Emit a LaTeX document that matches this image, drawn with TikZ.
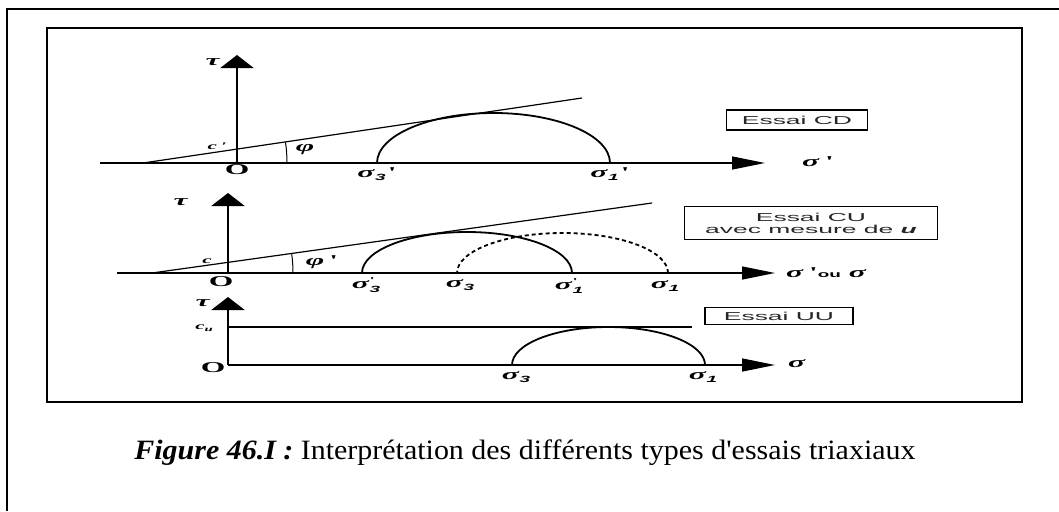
\documentclass[tikz,border=0pt]{standalone}
\usepackage{fontspec}
\setmainfont{Liberation Serif}
\setsansfont{Liberation Sans}
\usetikzlibrary{arrows.meta}
\newcommand\sx[1]{\scalebox{2.1}[1]{#1}}
\newcommand\gk[1]{\textbf{\textit{#1}}}
\newcommand\sub[1]{\raisebox{-3.5pt}{\sffamily\bfseries\itshape\fontsize{9}{9}\selectfont #1}}
\newcommand\pr{\textbf{\textquotesingle}}
\newcommand\subpr[1]{\makebox[0pt][l]{\raisebox{5pt}{\fontsize{9}{9}\selectfont\pr}}\sub{#1}}
\tikzset{
  vaxis/.style={line width=2.4pt,-{Triangle[length=13pt,width=33pt]}},
  haxis/.style={line width=1.4pt,-{Triangle[length=33pt,width=13pt]}},
  fline/.style={line width=1.2pt},
  mohr/.style={line width=1.8pt},
  lab/.style={inner sep=0pt,font=\fontsize{15}{15}\selectfont},
  small/.style={inner sep=0pt,font=\fontsize{10}{10}\selectfont\bfseries\itshape},
  ebox/.style={draw,line width=1.5pt,inner sep=0pt,font=\sffamily\fontsize{11.5}{12}\selectfont,text=black!85},
}
\newcommand\bx[1]{\scalebox{2.3}[1]{#1}}
\begin{document}
\begin{tikzpicture}[x=1pt,y=-1pt]
\useasboundingbox (0,0) rectangle (1059,511);
% frames
\draw[line width=1.8pt] (1059,9) -- (7,9) -- (7,511);
\draw[line width=2pt] (47,28) rectangle (1022,402);
% ---------------- CD
\coordinate (o1) at (237,163);
\coordinate (t1) at (237,55);
\coordinate (h1a) at (100,163);
\coordinate (h1b) at (765,163);
\coordinate (f1a) at (143,163);
\coordinate (f1b) at (582,98);
\draw[fline] (f1a) -- (f1b);
\draw[mohr] (610,163) arc[start angle=0,end angle=-180,x radius=116.5,y radius=50];
\draw[haxis] (h1a) -- (h1b);
\draw[vaxis] (o1) -- (t1);
\draw[line width=1pt] (287,163) arc[start angle=0,end angle=-8.2,radius=144];
\node[lab] (tau1) at (213,62) {\sx{\gk{τ}}};
\node[small] (c1) at (217,146) {\sx{c\,\textquotesingle}};
\node[lab] (O1) at (237,170) {\sx{\textbf{O}}};
\node[lab] (phi1) at (305,150) {\sx{\gk{φ}}};
\node[lab] (s31) at (377,174) {\sx{\gk{σ}\sub{3}\kern1pt\pr}};
\node[lab] (s11) at (610,174) {\sx{\gk{σ}\sub{1}\kern1pt\pr}};
\node[lab,anchor=west] (sx1) at (802,162) {\sx{\gk{σ}\,\pr}};
\node[ebox,minimum width=141pt,minimum height=20pt] (bcd) at (797,120) {\bx{Essai CD}};
% ---------------- CU
\coordinate (o2) at (228,273);
\coordinate (t2) at (228,193);
\coordinate (h2a) at (117,273);
\coordinate (h2b) at (775,273);
\coordinate (f2a) at (152,273);
\coordinate (f2b) at (652,203);
\draw[fline] (f2a) -- (f2b);
\draw[mohr] (572,273) arc[start angle=0,end angle=-180,x radius=105,y radius=41];
\draw[mohr,dash pattern=on 4pt off 3pt] (668,273) arc[start angle=0,end angle=-180,x radius=105.5,y radius=40];
\draw[haxis] (h2a) -- (h2b);
\draw[vaxis] (o2) -- (t2);
\draw[line width=1pt] (293,273) arc[start angle=0,end angle=-8,radius=141];
\node[lab] (tau2) at (181,202) {\sx{\gk{τ}}};
\node[small] (c2) at (207,261) {\sx{c}};
\node[lab] (O2) at (221,282) {\sx{\textbf{O}}};
\node[lab] (phi2) at (322,262) {\sx{\gk{φ}\,\pr}};
\node[lab] (s32) at (366,285) {\sx{\gk{σ}\subpr{3}}};
\node[lab] (s3b) at (460,285) {\sx{\gk{σ}\sub{3}}};
\node[lab] (s12) at (569,286) {\sx{\gk{σ}\subpr{1}}};
\node[lab] (s1b) at (665,286) {\sx{\gk{σ}\sub{1}}};
\node[lab,anchor=west] (sx2) at (786,273) {\sx{\gk{σ}\,\pr{\sffamily\bfseries\fontsize{9}{9}\selectfont ou} \gk{σ}}};
\node[ebox,minimum width=253pt,minimum height=33pt,align=center] (bcu) at (811,223) {\bx{Essai CU}\\[0pt]\bx{avec mesure de \gk{u}}};
% ---------------- UU
\coordinate (o3) at (228,365);
\coordinate (t3) at (228,297);
\coordinate (h3b) at (775,365);
\coordinate (cu0) at (228,327);
\coordinate (cu1) at (692,327);
\draw[line width=1.5pt] (cu0) -- (cu1);
\draw[mohr] (705,365) arc[start angle=0,end angle=-180,x radius=96.5,y radius=38];
\draw[haxis] (o3) -- (h3b);
\draw[vaxis] (o3) -- (t3);
\node[lab] (tau3) at (203,303) {\sx{\gk{τ}}};
\node[small] (c3) at (204,328) {\sx{c\raisebox{-2pt}{\fontsize{7}{7}\selectfont u}}};
\node[lab] (O3) at (213,368) {\sx{\textbf{O}}};
\node[lab] (s33) at (516,377) {\sx{\gk{σ}\sub{3}}};
\node[lab] (s13) at (703,377) {\sx{\gk{σ}\sub{1}}};
\node[lab,anchor=west] (sx3) at (788,364) {\sx{\gk{σ}}};
\node[ebox,minimum width=148pt,minimum height=17pt] (buu) at (779,316) {\bx{Essai UU}};
% caption
\node[inner sep=0pt,anchor=base,font=\fontsize{28}{32}\selectfont] (cap) at (525,459) {\scalebox{1.07}[1]{\textbf{\textit{Figure 46.I :}} Interprétation des différents types d\textquotesingle essais triaxiaux}};
\end{tikzpicture}
\end{document}
